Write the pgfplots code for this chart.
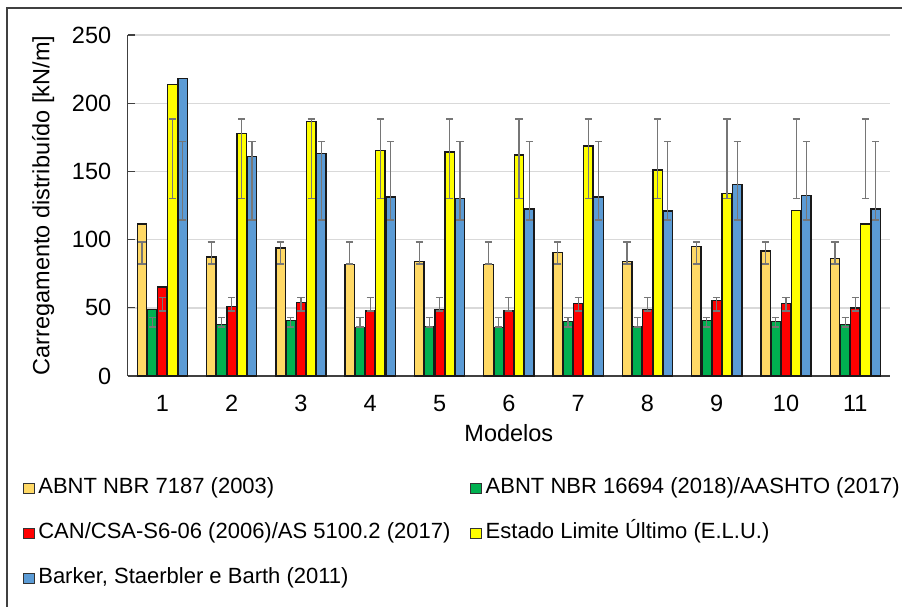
\documentclass[border=0pt]{standalone}
\usepackage{fontspec}
\setmainfont{Liberation Sans}
\usepackage{pgfplots}
\usepackage{pgfplotstable}
\pgfplotsset{compat=1.18}
\definecolor{cOr}{HTML}{FFD966}
\definecolor{cGr}{HTML}{00B050}
\definecolor{cRe}{HTML}{FF0000}
\definecolor{cYe}{HTML}{FFFF00}
\definecolor{cBl}{HTML}{5B9BD5}
\definecolor{cErr}{HTML}{767676}
\definecolor{cGrid}{HTML}{D9D9D9}
\definecolor{cAxis}{HTML}{404040}

\pgfplotstableread{
x o g r y b
1 111.4 48.9 65.2 213.8 218.2
2 87.2 37.6 50.8 177.6 161.1
3 93.8 40.8 54.0 186.4 163.3
4 81.9 35.4 47.7 165.5 131.2
5 83.8 36.4 48.9 164.1 130.0
6 81.9 35.4 47.7 162.0 122.4
7 90.6 39.8 53.0 168.6 131.2
8 83.8 36.4 48.9 151.0 121.1
9 94.8 40.8 55.4 133.7 140.3
10 91.6 39.8 53.0 121.2 132.4
11 86.0 37.6 49.9 111.4 122.4
}\data

% error ranges: centre c and half-width e of each series' interval
\pgfplotstableread{
x oc oe gc ge rc re yc ye bc be
1 90.15 8.05 39.45 3.55 52.5 4.9 159.2 29.2 143.1 28.7
2 90.15 8.05 39.45 3.55 52.5 4.9 159.2 29.2 143.1 28.7
3 90.15 8.05 39.45 3.55 52.5 4.9 159.2 29.2 143.1 28.7
4 90.15 8.05 39.45 3.55 52.5 4.9 159.2 29.2 143.1 28.7
5 90.15 8.05 39.45 3.55 52.5 4.9 159.2 29.2 143.1 28.7
6 90.15 8.05 39.45 3.55 52.5 4.9 159.2 29.2 143.1 28.7
7 90.15 8.05 39.45 3.55 52.5 4.9 159.2 29.2 143.1 28.7
8 90.15 8.05 39.45 3.55 52.5 4.9 159.2 29.2 143.1 28.7
9 90.15 8.05 39.45 3.55 52.5 4.9 159.2 29.2 143.1 28.7
10 90.15 8.05 39.45 3.55 52.5 4.9 159.2 29.2 143.1 28.7
11 90.15 8.05 39.45 3.55 52.5 4.9 159.2 29.2 143.1 28.7
}\errs

\pgfplotsset{
  barsty/.style={ybar, bar width=0.137, draw=black!90, line width=1.4pt,
    legend image code/.code={\draw[##1, line width=0.8pt, draw=black!80] (0pt,-5pt) rectangle (10.5pt,5pt);}},
  errsty/.style={draw=none, mark=none, forget plot,
    error bars/y dir=both, error bars/y explicit,
    error bars/error bar style={cErr, line width=1.2pt},
    error bars/error mark options={cErr, line width=1.2pt, rotate=90, mark size=3.6pt}},
}

\begin{document}
\begin{tikzpicture}
\useasboundingbox (0,0) rectangle (902pt,-607pt);
\clip (0,0) rectangle (902pt,-607pt);
\draw[cAxis, line width=1.2pt] (7pt,-700pt) -- (7pt,-8pt) -- (1000pt,-8pt);
\begin{axis}[
  at={(127.7pt,-376pt)}, anchor=south west,
  scale only axis, width=762.3pt, height=341pt,
  xmin=0.5, xmax=11.5, ymin=0, ymax=250,
  ytick={0,50,...,250},
  xtick={1,...,11},
  axis x line*=bottom, axis y line*=left,
  axis line style={cAxis, line width=1.2pt, -},
  ymajorgrids, grid style={cGrid, line width=1.4pt},
  xtick style={draw=none},
  ytick style={cAxis, line width=1.2pt},
  major tick length=7pt, tick align=inside,
  tick label style={font=\fontsize{23.5}{28}\selectfont},
  /pgf/number format/assume math mode=true,
  yticklabel shift=13pt,
  xticklabel shift=16pt,
  label style={font=\fontsize{23.5}{28}\selectfont},
  xlabel={Modelos},
  ylabel={Carregamento distribuído [kN/m]},
  xlabel style={at={(axis description cs:0.5,-0.167)}, anchor=center},
  ylabel style={at={(axis description cs:-0.111,0.5)}, anchor=center},
  legend columns=2, legend cell align=left,
  legend style={at={(axis description cs:-0.1373,-0.296)}, anchor=north west,
    draw=none, fill=none, inner sep=0pt, outer sep=0pt,
    font=\fontsize{22}{26}\selectfont, row sep=22pt, column sep=0pt,
    nodes={inner sep=1pt, text height=16pt, text depth=5pt},
    /tikz/every odd column/.append style={column sep=3pt},
    /tikz/every even column/.append style={column sep=19pt}},
]
\addplot[barsty, bar shift=-0.294, fill=cOr] table[x=x,y=o]{\data};
\addlegendentry{ABNT NBR 7187 (2003)}
\addplot[barsty, bar shift=-0.147, fill=cGr] table[x=x,y=g]{\data};
\addlegendentry{ABNT NBR 16694 (2018)/AASHTO (2017)}
\addplot[barsty, bar shift=0, fill=cRe] table[x=x,y=r]{\data};
\addlegendentry{CAN/CSA-S6-06 (2006)/AS 5100.2 (2017)}
\addplot[barsty, bar shift=0.147, fill=cYe] table[x=x,y=y]{\data};
\addlegendentry{Estado Limite Último (E.L.U.)}
\addplot[barsty, bar shift=0.294, fill=cBl] table[x=x,y=b]{\data};
\addlegendentry{Barker, Staerbler e Barth (2011)}

\addplot[errsty, xshift=-20.38pt] table[x=x,y=oc,y error=oe]{\errs};
\addplot[errsty, xshift=-10.19pt] table[x=x,y=gc,y error=ge]{\errs};
\addplot[errsty] table[x=x,y=rc,y error=re]{\errs};
\addplot[errsty, xshift=10.19pt] table[x=x,y=yc,y error=ye]{\errs};
\addplot[errsty, xshift=20.38pt] table[x=x,y=bc,y error=be]{\errs};
\end{axis}
\end{tikzpicture}
\end{document}
